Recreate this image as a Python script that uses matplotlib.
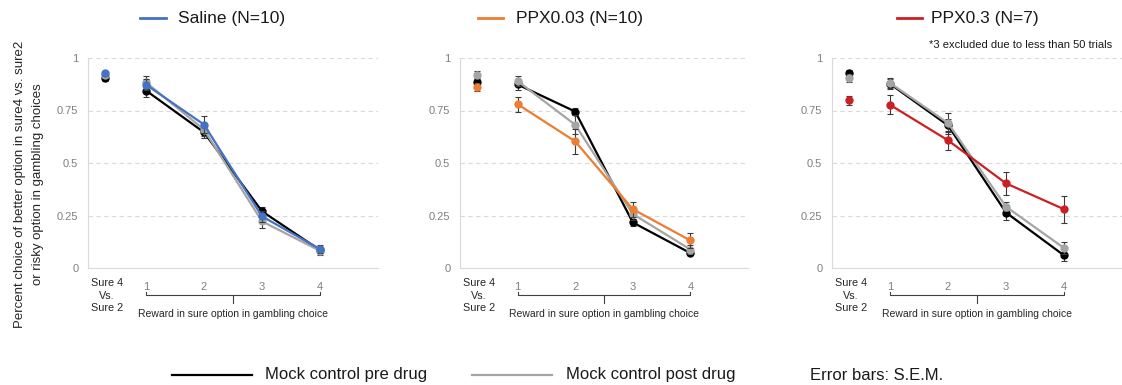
import matplotlib
matplotlib.use("Agg")
import matplotlib.pyplot as plt
import matplotlib.transforms as mtransforms
from matplotlib.lines import Line2D

plt.rcParams['font.family'] = ['Liberation Sans', 'DejaVu Sans']

# ---- data ----
x_reward = [1, 2, 3, 4]
reward_labels = ['1', '2', '3', '4']
sure_label = 'Sure 4\nVs.\nSure 2'

# Panel 1: Saline
sal_pre_sure, sal_pre_sure_err = 0.905, 0.015
sal_pre = [0.845, 0.646, 0.270, 0.085]
sal_pre_err = [0.030, 0.025, 0.020, 0.015]
sal_post_sure, sal_post_sure_err = 0.920, 0.015
sal_post = [0.884, 0.659, 0.222, 0.082]
sal_post_err = [0.030, 0.030, 0.030, 0.020]
sal_drug_sure, sal_drug_sure_err = 0.928, 0.012
sal_drug = [0.873, 0.683, 0.246, 0.090]
sal_drug_err = [0.025, 0.040, 0.025, 0.020]

# Panel 2: PPX0.03
p1_pre_sure, p1_pre_sure_err = 0.887, 0.015
p1_pre = [0.874, 0.745, 0.217, 0.071]
p1_pre_err = [0.025, 0.015, 0.015, 0.010]
p1_post_sure, p1_post_sure_err = 0.921, 0.015
p1_post = [0.890, 0.682, 0.257, 0.088]
p1_post_err = [0.025, 0.045, 0.030, 0.020]
p1_drug_sure, p1_drug_sure_err = 0.861, 0.020
p1_drug = [0.780, 0.603, 0.280, 0.131]
p1_drug_err = [0.035, 0.060, 0.035, 0.035]

# Panel 3: PPX0.3
p3_pre_sure, p3_pre_sure_err = 0.927, 0.015
p3_pre = [0.877, 0.679, 0.264, 0.060]
p3_pre_err = [0.025, 0.030, 0.035, 0.025]
p3_post_sure, p3_post_sure_err = 0.905, 0.020
p3_post = [0.881, 0.690, 0.292, 0.095]
p3_post_err = [0.025, 0.050, 0.020, 0.030]
p3_drug_sure, p3_drug_sure_err = 0.798, 0.020
p3_drug = [0.777, 0.608, 0.403, 0.280]
p3_drug_err = [0.045, 0.045, 0.055, 0.065]

drug_names = ['Saline (N=10)', 'PPX0.03 (N=10)', 'PPX0.3 (N=7)']
drug_colors = ['#4472C4', '#ED7D31', '#CC1F24']
c_pre = '#000000'
c_post = '#A5A5A5'

panels = [
    (sal_pre_sure, sal_pre_sure_err, sal_pre, sal_pre_err,
     sal_post_sure, sal_post_sure_err, sal_post, sal_post_err,
     sal_drug_sure, sal_drug_sure_err, sal_drug, sal_drug_err),
    (p1_pre_sure, p1_pre_sure_err, p1_pre, p1_pre_err,
     p1_post_sure, p1_post_sure_err, p1_post, p1_post_err,
     p1_drug_sure, p1_drug_sure_err, p1_drug, p1_drug_err),
    (p3_pre_sure, p3_pre_sure_err, p3_pre, p3_pre_err,
     p3_post_sure, p3_post_sure_err, p3_post, p3_post_err,
     p3_drug_sure, p3_drug_sure_err, p3_drug, p3_drug_err),
]

W, H = 1122, 385
fig = plt.figure(figsize=(W / 100, H / 100), dpi=100)

lefts = [88, 460, 832]
widths = [290, 288, 290]
top_px, bot_px = 58, 268
sure_x = 0.3
tick_gray = '#7F7F7F'
err_col = '#3A3A3A'

for i, (left, wd, data) in enumerate(zip(lefts, widths, panels)):
    ax = fig.add_axes([left / W, (H - bot_px) / H, wd / W, (bot_px - top_px) / H])
    (pre_s, pre_se, pre, pre_e, post_s, post_se, post, post_e,
     drug_s, drug_se, drug, drug_e) = data
    col = drug_colors[i]
    ax.set_xlim(0, 5)
    ax.set_ylim(0, 1)
    for yy in [0.25, 0.5, 0.75, 1.0]:
        ax.axhline(yy, color='#D9D9D9', lw=0.8, ls=(0, (4, 3)), zorder=0)
    ax.set_yticks([0, 0.25, 0.5, 0.75, 1])
    ax.set_yticklabels(['0', '0.25', '0.5', '0.75', '1'])
    ax.set_xticks(x_reward)
    ax.set_xticklabels(reward_labels)
    ax.tick_params(axis='both', length=0, labelsize=8, colors=tick_gray)
    ax.tick_params(axis='y', pad=7)
    ax.tick_params(axis='x', pad=10)
    for s in ['top', 'right']:
        ax.spines[s].set_visible(False)
    for s in ['left', 'bottom']:
        ax.spines[s].set_color('#D9D9D9')
        ax.spines[s].set_linewidth(0.8)

    series = [(pre_s, pre_se, pre, pre_e, c_pre, 3),
              (post_s, post_se, post, post_e, c_post, 4),
              (drug_s, drug_se, drug, drug_e, col, 5)]
    if i == 0:
        series = [series[0], series[2], series[1]]
    for s_val, s_err, vals, errs, c, z in series:
        ax.errorbar(x_reward, vals, yerr=errs, color=c, lw=1.6, marker='o', ms=5,
                    ecolor=err_col, elinewidth=0.8, capsize=2.5, capthick=0.8,
                    zorder=z, clip_on=False)
        ax.errorbar([sure_x], [s_val], yerr=[s_err], color=c, marker='o', ms=5,
                    ls='none', ecolor=err_col, elinewidth=0.8, capsize=2.5,
                    capthick=0.8, zorder=z, clip_on=False)

    trans = mtransforms.blended_transform_factory(ax.transData, ax.transAxes)
    ax.text(sure_x + 0.03, -0.05, sure_label, transform=trans, ha='center', va='top',
            fontsize=7.8, color='#262626', linespacing=1.3)
    yb = -0.13
    ax.plot([1, 1, 4, 4], [yb + 0.015, yb, yb, yb + 0.015], transform=trans,
            color='#404040', lw=0.8, clip_on=False)
    ax.plot([2.5, 2.5], [yb, yb - 0.035], transform=trans, color='#404040', lw=0.8,
            clip_on=False)
    ax.text(2.5, -0.195, 'Reward in sure option in gambling choice', transform=trans,
            ha='center', va='top', fontsize=7.5, color='#262626')

# top legends
leg_items = [(140, 166, 178), (478, 503, 516), (897, 922, 931)]
for (x0, x1, xt), name, c in zip(leg_items, drug_names, drug_colors):
    fig.add_artist(Line2D([x0 / W, x1 / W], [1 - 18 / H] * 2, color=c, lw=2))
    fig.text(xt / W, 1 - 18 / H, name, ha='left', va='center', fontsize=12.5, color='#1A1A1A')
fig.text(1112 / W, 1 - 45 / H, '*3 excluded due to less than 50 trials', ha='right',
         va='center', fontsize=8, color='#1A1A1A')

# bottom legend
fig.add_artist(Line2D([172 / W, 252 / W], [1 - 375 / H] * 2, color=c_pre, lw=1.6))
fig.text(265 / W, 1 - 375 / H, 'Mock control pre drug', ha='left', va='center', fontsize=12,
         color='#1A1A1A')
fig.add_artist(Line2D([472 / W, 552 / W], [1 - 375 / H] * 2, color=c_post, lw=1.6))
fig.text(566 / W, 1 - 375 / H, 'Mock control post drug', ha='left', va='center', fontsize=12,
         color='#1A1A1A')
fig.text(810 / W, 1 - 375 / H, 'Error bars: S.E.M.', ha='left', va='center', fontsize=12,
         color='#1A1A1A')

# y label
fig.text(20 / W, 1 - 184 / H, 'Percent choice of better option in sure4 vs. sure2',
         rotation=90, ha='center', va='center', fontsize=9.5, color='#262626')
fig.text(38 / W, 1 - 184 / H, 'or risky option in gambling choices',
         rotation=90, ha='center', va='center', fontsize=9.5, color='#262626')

fig.savefig('out.png', dpi=100)
